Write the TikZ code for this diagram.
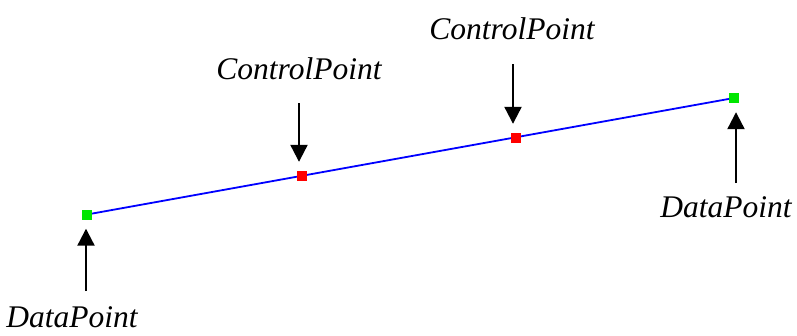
\documentclass[tikz,border=0pt]{standalone}
\usepackage{fontspec}
\setmainfont{Liberation Serif}
\usetikzlibrary{arrows.meta}
\begin{document}
\begin{tikzpicture}[x=1pt,y=-1pt,
  datapt/.style={draw=none,fill={rgb,255:red,0;green,230;blue,0},minimum size=10pt,inner sep=0pt},
  ctrlpt/.style={draw=none,fill={rgb,255:red,255;green,0;blue,0},minimum size=10pt,inner sep=0pt},
  curve/.style={draw={rgb,255:red,0;green,0;blue,255},line width=1.8pt},
  pointer/.style={draw=black,line width=2.2pt,-{Triangle[width=17pt,length=17pt]},shorten >=9pt},
  lbl/.style={inner sep=0pt,anchor=base,font=\fontsize{31.5}{36}\selectfont\itshape}]
\useasboundingbox (0,0) rectangle (797,335);

% the blue segment through the four points
\coordinate (d1c) at (87,214.5);
\coordinate (c1c) at (301.5,176);
\coordinate (c2c) at (516,138);
\coordinate (d2c) at (734,98);
\draw[curve] (d1c) -- (d2c);

\node[datapt] (d1) at (d1c) {};
\node[ctrlpt] (c1) at (c1c) {};
\node[ctrlpt] (c2) at (c2c) {};
\node[datapt] (d2) at (d2c) {};

% labels
\node[lbl] (ld1) at (72,327) {DataPoint};
\node[lbl] (lc1) at (299,79) {ControlPoint};
\node[lbl] (lc2) at (512,39) {ControlPoint};
\node[lbl] (ld2) at (726,217) {DataPoint};

% pointers from the labels to the points
\coordinate (t1) at (86,291);
\coordinate (t2) at (299,103);
\coordinate (t3) at (513,64);
\coordinate (t4) at (736,183);
\draw[pointer] (t1) -- (t1 |- d1.south);
\draw[pointer] (t2) -- (t2 |- c1.north);
\draw[pointer] (t3) -- (t3 |- c2.north);
\draw[pointer] (t4) -- (t4 |- d2.south);
\end{tikzpicture}
\end{document}
